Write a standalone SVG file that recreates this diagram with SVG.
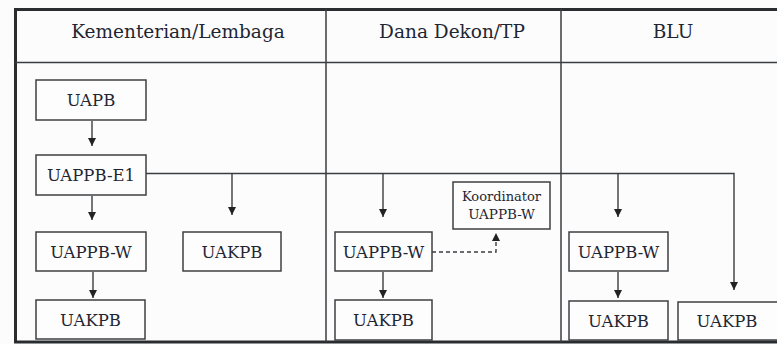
<svg xmlns="http://www.w3.org/2000/svg" width="777" height="344" viewBox="0 0 777 344">
  <style>
    .frame { stroke: #2a2d30; fill: none; }
    .heavy { stroke-width: 3; }
    .thin { stroke-width: 1.5; stroke: #3a3d40; }
    .box rect { fill: #fdfdfd; stroke: #3c3f42; stroke-width: 1.5; }
    .lbl { font-family: "DejaVu Serif", "Liberation Serif", serif; fill: #1f2633; text-anchor: middle; }
    .head { font-size: 18.5px; }
    .node { font-size: 16.5px; }
    .small { font-size: 13px; }
    .small2 { font-size: 13.5px; }
    .wire { stroke: #3a3d40; stroke-width: 1.4; fill: none; }
    .dash { stroke-dasharray: 4 3; }
  </style>
  <defs>
    <marker id="tip" markerUnits="userSpaceOnUse" markerWidth="8" markerHeight="8" refX="8" refY="4" orient="auto">
      <path d="M0,0 L8,4 L0,8 z" fill="#222"/>
    </marker>
  </defs>

  <rect x="0" y="0" width="777" height="344" fill="#fcfcfc"/>

  <!-- table frame -->
  <g id="frame">
    <line class="frame heavy" x1="14" y1="9.5" x2="777" y2="9.5"/>
    <line class="frame heavy" x1="15.5" y1="8" x2="15.5" y2="343"/>
    <line class="frame heavy" x1="14" y1="342" x2="777" y2="342"/>
    <line class="frame thin" x1="15" y1="62.5" x2="777" y2="62.5"/>
    <line class="frame thin" x1="326" y1="9" x2="326" y2="342"/>
    <line class="frame thin" x1="561" y1="9" x2="561" y2="342"/>
  </g>

  <!-- column headings -->
  <g id="headings">
    <text class="lbl head" x="178" y="38">Kementerian/Lembaga</text>
    <text class="lbl head" x="452" y="38">Dana Dekon/TP</text>
    <text class="lbl head" x="673" y="38">BLU</text>
  </g>

  <!-- connectors -->
  <g id="connectors">
    <path class="wire" d="M92 121 V146" marker-end="url(#tip)"/>
    <path class="wire" d="M92 196 V220" marker-end="url(#tip)"/>
    <path class="wire" d="M93 272 V298" marker-end="url(#tip)"/>
    <path class="wire" d="M146 173.5 H734 V290" marker-end="url(#tip)"/>
    <path class="wire" d="M232 173.5 V215" marker-end="url(#tip)"/>
    <path class="wire" d="M383 173.5 V217" marker-end="url(#tip)"/>
    <path class="wire" d="M618 173.5 V217" marker-end="url(#tip)"/>
    <path class="wire" d="M383 272 V298" marker-end="url(#tip)"/>
    <path class="wire" d="M618 272 V298" marker-end="url(#tip)"/>
    <path class="wire dash" d="M432 252 H496 V233" marker-end="url(#tip)"/>
  </g>

  <!-- Kementerian/Lembaga -->
  <g id="kl-uapb" class="box">
    <rect x="36" y="80" width="110" height="40"/>
    <text class="lbl node" x="91" y="106">UAPB</text>
  </g>
  <g id="kl-uappb-e1" class="box">
    <rect x="36" y="155" width="110" height="40"/>
    <text class="lbl node" x="91" y="181">UAPPB-E1</text>
  </g>
  <g id="kl-uappb-w" class="box">
    <rect x="36" y="232" width="110" height="39"/>
    <text class="lbl node" x="91" y="257.5">UAPPB-W</text>
  </g>
  <g id="kl-uakpb-1" class="box">
    <rect x="36" y="300" width="109" height="39"/>
    <text class="lbl node" x="90.5" y="325.5">UAKPB</text>
  </g>
  <g id="kl-uakpb-2" class="box">
    <rect x="183" y="232" width="98" height="39"/>
    <text class="lbl node" x="232" y="257.5">UAKPB</text>
  </g>

  <!-- Dana Dekon/TP -->
  <g id="dk-uappb-w" class="box">
    <rect x="335" y="232" width="97" height="39"/>
    <text class="lbl node" x="383.5" y="257.5">UAPPB-W</text>
  </g>
  <g id="dk-uakpb" class="box">
    <rect x="335" y="300" width="97" height="40"/>
    <text class="lbl node" x="383.5" y="326">UAKPB</text>
  </g>
  <g id="dk-koordinator" class="box">
    <rect x="453" y="182" width="97" height="47"/>
    <text class="lbl small" x="501.5" y="201">Koordinator</text>
    <text class="lbl small2" x="501.5" y="219">UAPPB-W</text>
  </g>

  <!-- BLU -->
  <g id="blu-uappb-w" class="box">
    <rect x="569" y="232" width="99" height="39"/>
    <text class="lbl node" x="618.5" y="257.5">UAPPB-W</text>
  </g>
  <g id="blu-uakpb-1" class="box">
    <rect x="569" y="301" width="99" height="39"/>
    <text class="lbl node" x="618.5" y="326.5">UAKPB</text>
  </g>
  <g id="blu-uakpb-2" class="box">
    <rect x="678" y="302" width="110" height="38"/>
    <text class="lbl node" x="727" y="327">UAKPB</text>
  </g>
</svg>
